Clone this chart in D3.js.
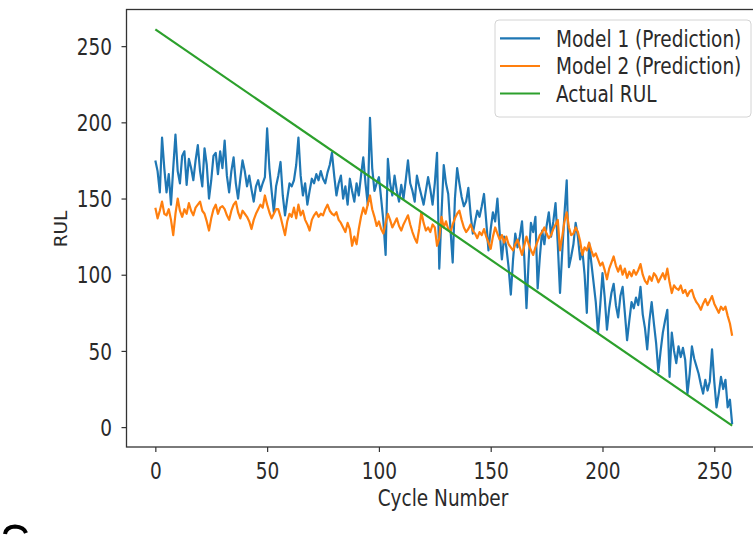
<!DOCTYPE html>
<html>
<head>
<meta charset="utf-8">
<script src="https://cdn.jsdelivr.net/npm/d3@7"></script>
<style>
  body { margin: 0; background: #fff; }
  svg { display: block; font-family: "DejaVu Sans", sans-serif; }
</style>
</head>
<body>
<svg id="canvas"></svg>
<script>
/***********************************************************************/
// Data

var model1 = [
  175, 168, 154, 190, 170, 154, 166, 146, 170, 192,
  168, 160, 178, 181, 159, 176, 170, 162, 175, 185,
  168, 158, 183, 172, 150, 162, 178, 180, 166, 181,
  170, 188, 165, 154, 168, 177, 160, 150, 163, 175,
  168, 158, 165, 156, 148, 158, 162, 155, 160, 164,
  196, 170, 155, 141, 158, 165, 174, 152, 139, 150,
  160, 158, 162, 172, 190, 165, 152, 160, 146, 155,
  163, 160, 166, 162, 168, 163, 160, 167, 172, 180,
  165, 152, 160, 165, 150, 158, 146, 163, 155, 148,
  160, 152, 165, 177, 160, 146, 203, 170, 155, 160,
  164, 150, 135, 113, 176, 160, 152, 165, 155, 148,
  159, 150, 162, 175, 160, 155, 148, 165, 158, 152,
  146, 155, 164, 156, 146, 160, 180, 104, 140, 172,
  160, 153, 130, 108, 150, 170, 160, 151, 145, 148,
  157, 140, 127, 135, 142, 138, 145, 153, 135, 116,
  130, 141, 135, 150, 128, 110, 125, 118, 105, 87,
  110, 127, 118, 125, 135, 112, 78, 110, 134, 128,
  138, 91, 112, 129, 120, 132, 141, 125, 135, 147,
  120, 88, 115, 140, 162, 105, 112, 120, 134, 125,
  110, 116, 100, 75, 121, 108, 95, 82, 62, 80,
  101, 85, 64, 78, 88, 94, 80, 72, 86, 92,
  75, 57, 70, 82, 78, 85, 80, 92, 74, 65,
  51, 70, 82, 68, 55, 36, 50, 62, 70, 77,
  33, 62, 50, 42, 53, 46, 52, 44, 22, 35,
  53, 45, 40, 35, 28, 22, 31, 24, 30, 51,
  30, 13, 22, 33, 25, 31, 13, 18, 2
];

var model2 = [
  144, 137, 142, 148, 140, 139, 143, 136, 126, 140,
  150, 142, 138, 143, 140, 147, 142, 139, 144, 146,
  148, 142, 140, 135, 129, 137, 143, 146, 140, 144,
  145, 143, 139, 136, 142, 146, 148, 141, 137, 142,
  140, 138, 135, 130, 136, 140, 143, 146, 144, 152,
  146, 141, 137, 140, 143, 143, 138, 132, 126, 135,
  140, 138, 144, 137, 146, 139, 142, 136, 133, 129,
  136, 139, 141, 138, 140, 139, 143, 146, 142, 140,
  139, 141, 136, 134, 131, 128, 134, 130, 119, 125,
  120, 130, 138, 144, 140, 146, 152, 143, 138, 132,
  135, 130, 127, 134, 140, 136, 131, 134, 137, 132,
  129, 133, 136, 139, 133, 128, 124, 121, 130, 141,
  134, 129, 131, 128, 133, 131, 119, 124, 138, 131,
  135, 130, 128, 133, 137, 140, 142, 136, 131, 128,
  130, 133, 129, 127, 124, 128, 126, 130, 125, 121,
  117, 125, 131, 127, 123, 126, 121, 125, 120, 118,
  116, 120, 123, 118, 113, 119, 125, 120, 116, 113,
  118, 122, 126, 128, 131, 127, 124, 126, 130, 133,
  136, 116, 125, 135, 141, 131, 126, 127, 131, 128,
  122, 113, 118, 116, 121, 116, 112, 114, 110, 106,
  108, 103, 97, 104, 108, 112, 106, 102, 106, 100,
  104, 98, 102, 99, 103, 100, 103, 107, 100, 96,
  94, 99, 96, 101, 99, 95, 98, 101, 97, 104,
  95, 88, 93, 91, 90, 93, 88, 90, 86, 89,
  90, 85, 82, 80, 77, 81, 84, 80, 83, 86,
  81, 78, 75, 79, 77, 79, 73, 68, 60
];

var actualCycles = [0, 258];
var actualRUL = [261, 1];

var xTicks = [0, 50, 100, 150, 200, 250];
var yTicks = [0, 50, 100, 150, 200, 250];

var seriesNames = ['Model 1 (Prediction)', 'Model 2 (Prediction)', 'Actual RUL'];
var seriesColors = ['#1f77b4', '#ff7f0e', '#2ca02c'];

/***********************************************************************/
// Variables

var svg_width = 753, svg_height = 535;
var plot = { left: 126.5, right: 761, top: 9.5, bottom: 447 };
var fontSize = 18.5;
var stretch = 1.22; // picture text is taller than it is wide
var textColor = '#2a2a2a';

var xScale = d3.scaleLinear().domain([-12.9, 270.9]).range([plot.left, plot.right]);
var yScale = d3.scaleLinear().domain([-13.05, 274.05]).range([plot.bottom, plot.top]);

var svg = d3.select('#canvas').attr('width', svg_width).attr('height', svg_height);

/***********************************************************************/
// Axes

var xAxis = svg.append('g')
  .attr('transform', 'translate(0,' + plot.bottom + ')')
  .call(d3.axisBottom(xScale).tickValues(xTicks).tickSize(5));

var yAxis = svg.append('g')
  .attr('transform', 'translate(' + plot.left + ',0)')
  .call(d3.axisLeft(yScale).tickValues(yTicks).tickSize(5));

[xAxis, yAxis].forEach(ax => {
  ax.select('.domain').remove();
  ax.selectAll('.tick line').attr('stroke', '#333').attr('stroke-width', 1.2);
  ax.selectAll('.tick text')
    .attr('fill', textColor)
    .style('font-family', '"DejaVu Sans", sans-serif')
    .style('font-size', fontSize + 'px')
    .attr('x', 0).attr('y', 0).attr('dy', null);
});

xAxis.selectAll('.tick text').attr('transform', 'translate(0,32) scale(1,' + stretch + ')');
yAxis.selectAll('.tick text').attr('transform', 'translate(-14.5,8.2) scale(1,' + stretch + ')');

/***********************************************************************/
// Lines

var line = d3.line().x(d => xScale(d[0])).y(d => yScale(d[1]));

var lineData = [
  model1.map((v, i) => [i, v]),
  model2.map((v, i) => [i, v]),
  actualCycles.map((c, i) => [c, actualRUL[i]])
];

lineData.forEach((pts, k) => {
  svg.append('path')
    .attr('d', line(pts))
    .attr('fill', 'none')
    .attr('stroke', seriesColors[k])
    .attr('stroke-width', 2.2)
    .attr('stroke-linejoin', 'round');
});

// spines (right one falls just outside the picture)
svg.append('rect')
  .attr('x', plot.left).attr('y', plot.top)
  .attr('width', plot.right - plot.left).attr('height', plot.bottom - plot.top)
  .attr('fill', 'none').attr('stroke', '#333').attr('stroke-width', 1.3);

/***********************************************************************/
// Labels

svg.append('text')
  .attr('transform', 'translate(443,506) scale(1,' + stretch + ')')
  .attr('text-anchor', 'middle')
  .attr('fill', textColor)
  .style('font-size', fontSize + 'px')
  .text('Cycle Number');

svg.append('text')
  .attr('transform', 'translate(67,229) rotate(-90)')
  .attr('text-anchor', 'middle')
  .attr('fill', textColor)
  .style('font-size', fontSize + 'px')
  .text('RUL');

// cut-off mark at the lower left corner of the picture
svg.append('path')
  .attr('d', 'M5,534 Q6,527 15,526.5 Q24,527 26,533')
  .attr('fill', 'none')
  .attr('stroke', '#000')
  .attr('stroke-width', 4);

/***********************************************************************/
// Legend

var legend = svg.append('g');
var rowY = [38.3, 66, 93.5];

legend.append('rect')
  .attr('x', 495).attr('y', 20).attr('width', 256).attr('height', 97).attr('rx', 4)
  .attr('fill', '#fff').attr('fill-opacity', 0.8)
  .attr('stroke', '#d4d4d4').attr('stroke-width', 1);

seriesNames.forEach((name, k) => {
  legend.append('line')
    .attr('x1', 500).attr('x2', 540).attr('y1', rowY[k]).attr('y2', rowY[k])
    .attr('stroke', seriesColors[k]).attr('stroke-width', 2.2);
  legend.append('text')
    .attr('transform', 'translate(556,' + (rowY[k] + 8.2) + ') scale(1,' + stretch + ')')
    .attr('fill', textColor)
    .style('font-size', fontSize + 'px')
    .text(name);
});
</script>
</body>
</html>
